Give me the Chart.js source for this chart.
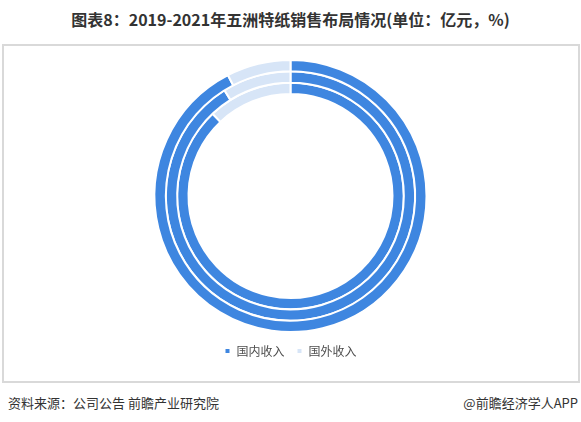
<!DOCTYPE html>
<html>
<head>
<meta charset="utf-8">
<script src="https://cdn.jsdelivr.net/npm/chart.js@4.4.0/dist/chart.umd.min.js"></script>
<style>
  html, body { margin: 0; padding: 0; background: #fff; }
  body { width: 581px; height: 422px; position: relative; overflow: hidden; font-family: "Noto Sans CJK SC", "Noto Sans", sans-serif; }
  #title { position: absolute; left: 0; top: 7px; width: 581px; text-align: center; font-size: 16px; font-weight: bold; color: #333; }
  #frame { position: absolute; left: 2px; top: 44px; width: 574px; height: 335px; border: 2px solid #d9d9d9; }
  #wrap { position: absolute; left: 0; top: 44px; width: 581px; height: 331px; }
  #src { position: absolute; left: 8px; top: 393px; font-size: 13px; color: #333; }
  #app { position: absolute; right: 3px; top: 393px; font-size: 13px; color: #333; }
</style>
</head>
<body>
<div id="title">图表8：2019-2021年五洲特纸销售布局情况(单位：亿元，%)</div>
<div id="frame"></div>
<div id="wrap"><canvas id="c"></canvas></div>
<div id="src">资料来源：公司公告 前瞻产业研究院</div>
<div id="app">@前瞻经济学人APP</div>
<script>
// Categories (segments) and years (rings, outermost first)
const categories = ["国内收入", "国外收入"];
const years = ["2021", "2020", "2019"];
// Revenue, 亿元
const domestic = [48.6, 32.8, 27.7];
const foreign = [4.0, 3.2, 3.8];

const colors = ["#3e86e0", "#d7e5f7"];

const datasets = years.map((y, i) => ({
  label: y,
  data: [domestic[i], foreign[i]],
  backgroundColor: colors,
  borderColor: "#ffffff",
  borderWidth: 2
}));

new Chart(document.getElementById("c"), {
  type: "doughnut",
  data: { labels: categories, datasets: datasets },
  options: {
    responsive: true,
    maintainAspectRatio: false,
    animation: false,
    cutout: "75%",
    layout: { padding: { top: 15, bottom: 8 } },
    plugins: {
      tooltip: { enabled: false },
      legend: {
        position: "bottom",
        labels: {
          usePointStyle: true,
          pointStyle: "rect",
          boxWidth: 6,
          boxHeight: 6,
          padding: 12,
          color: "#4d4d4d",
          font: { family: "'Noto Sans CJK SC', sans-serif", size: 12 }
        }
      }
    }
  }
});
</script>
</body>
</html>
